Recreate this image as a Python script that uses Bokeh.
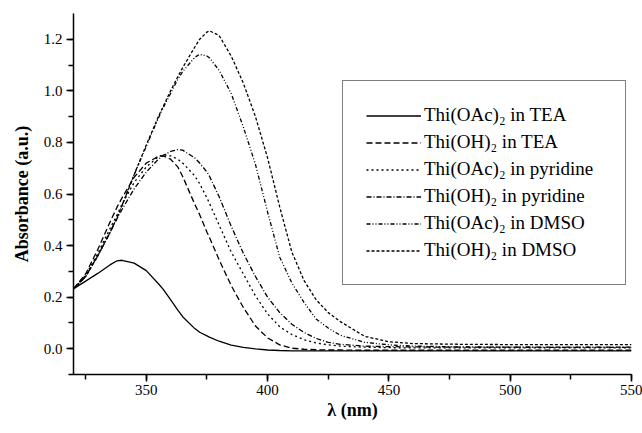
from bokeh.plotting import figure
from bokeh.models import (Legend, LegendItem, SingleIntervalTicker, NumeralTickFormatter)
from bokeh.embed import file_html
from bokeh.resources import INLINE

# Wavelength grid (nm)
wavelength = [320, 325, 330, 335, 338, 340, 345, 350, 355, 357, 360, 363, 365, 370, 372,
              375, 376, 380, 385, 390, 395, 400, 405, 410, 415, 420, 425, 430, 440, 450,
              460, 480, 500, 525, 550]

oac_tea = [0.232, 0.262, 0.292, 0.325, 0.341, 0.343, 0.332, 0.303, 0.252, 0.230, 0.190, 0.150,
           0.124, 0.078, 0.064, 0.050, 0.045, 0.029, 0.014, 0.005, -0.001, -0.005, -0.007,
           -0.008, -0.008, -0.008, -0.008, -0.008, -0.008, -0.008, -0.008, -0.008, -0.008,
           -0.008, -0.008]

oh_tea = [0.232, 0.290, 0.385, 0.490, 0.550, 0.585, 0.665, 0.720, 0.746, 0.748, 0.735, 0.705,
          0.668, 0.560, 0.520, 0.452, 0.432, 0.345, 0.245, 0.160, 0.088, 0.042, 0.015, 0.002,
          -0.002, -0.004, -0.005, -0.005, -0.006, -0.006, -0.006, -0.006, -0.006, -0.006,
          -0.006]

oac_pyr = [0.232, 0.285, 0.370, 0.465, 0.520, 0.560, 0.645, 0.705, 0.745, 0.752, 0.748, 0.735,
           0.720, 0.670, 0.640, 0.585, 0.565, 0.480, 0.375, 0.290, 0.205, 0.135, 0.085, 0.055,
           0.035, 0.022, 0.015, 0.010, 0.006, 0.004, 0.003, 0.003, 0.003, 0.003, 0.003]

oh_pyr = [0.232, 0.280, 0.360, 0.450, 0.505, 0.540, 0.620, 0.685, 0.735, 0.750, 0.765, 0.772,
          0.770, 0.740, 0.720, 0.685, 0.670, 0.590, 0.475, 0.370, 0.280, 0.200, 0.140, 0.095,
          0.063, 0.040, 0.025, 0.017, 0.010, 0.008, 0.007, 0.006, 0.006, 0.006, 0.006]

oac_dmso = [0.232, 0.280, 0.360, 0.450, 0.510, 0.555, 0.675, 0.785, 0.895, 0.935, 0.990, 1.045,
            1.075, 1.130, 1.142, 1.135, 1.128, 1.080, 0.990, 0.860, 0.715, 0.530, 0.355, 0.255,
            0.180, 0.115, 0.080, 0.052, 0.025, 0.015, 0.010, 0.007, 0.006, 0.005, 0.005]

oh_dmso = [0.232, 0.280, 0.360, 0.450, 0.510, 0.555, 0.675, 0.790, 0.900, 0.940, 1.000, 1.055,
           1.090, 1.170, 1.200, 1.228, 1.233, 1.215, 1.135, 1.030, 0.900, 0.740, 0.550, 0.375,
           0.265, 0.190, 0.140, 0.105, 0.048, 0.027, 0.020, 0.017, 0.016, 0.016, 0.016]

labels = ["Thi(OAc)\u2082 in TEA", "Thi(OH)\u2082 in TEA", "Thi(OAc)\u2082 in pyridine",
          "Thi(OH)\u2082 in pyridine", "Thi(OAc)\u2082 in DMSO", "Thi(OH)\u2082 in DMSO"]

series = [oac_tea, oh_tea, oac_pyr, oh_pyr, oac_dmso, oh_dmso]
dashes = ["solid", "6 3", "2 3", "5 2 1 2", "4 2 1 2 1 2", "3 2"]

SERIF = "Liberation Serif"

p = figure(width=642, height=433, x_range=(320, 550), y_range=(-0.1, 1.3),
           output_backend="svg", toolbar_location=None,
           min_border_left=73, min_border_right=11, min_border_top=13, min_border_bottom=59)
p.outline_line_color = None
p.xgrid.visible = False
p.ygrid.visible = False

items = []
for ys, dash, lab in zip(series, dashes, labels):
    r = p.line(wavelength, ys, line_color="black", line_width=1.3, line_dash=dash)
    items.append(LegendItem(label=lab, renderers=[r]))

# Axes
p.xaxis.ticker = SingleIntervalTicker(interval=50, num_minor_ticks=2)
p.yaxis.ticker = SingleIntervalTicker(interval=0.2, num_minor_ticks=2)
p.yaxis.formatter = NumeralTickFormatter(format="0.0")
for ax in (p.xaxis[0], p.yaxis[0]):
    ax.axis_line_width = 1.5
    ax.axis_line_color = "black"
    ax.major_tick_line_color = "black"
    ax.minor_tick_line_color = "black"
    ax.major_tick_line_width = 1.5
    ax.minor_tick_line_width = 1.5
    ax.major_tick_out = 7
    ax.major_tick_in = 0
    ax.minor_tick_out = 5
    ax.minor_tick_in = 0
    ax.major_label_text_font = SERIF
    ax.major_label_text_font_size = "15px"
    ax.major_label_text_color = "black"
    ax.axis_label_text_font = SERIF
    ax.axis_label_text_font_size = "18px"
    ax.axis_label_text_font_style = "bold"
    ax.axis_label_text_color = "black"

p.xaxis.axis_label = "\u03bb (nm)"
p.yaxis.axis_label = "Absorbance (a.u.)"
p.xaxis.major_label_standoff = 3
p.xaxis.axis_label_standoff = 2
p.yaxis.major_label_standoff = 4
p.yaxis.axis_label_standoff = 9

legend = Legend(items=items, location=(269, 89))
legend.border_line_color = "black"
legend.border_line_width = 1.5
legend.background_fill_color = "white"
legend.background_fill_alpha = 1.0
legend.label_text_font = SERIF
legend.label_text_font_size = "19px"
legend.label_text_color = "black"
legend.glyph_width = 55
legend.glyph_height = 21
legend.label_height = 21
legend.label_width = 178
legend.label_standoff = 3
legend.spacing = 5
legend.padding = 23
legend.margin = 0
p.add_layout(legend, "center")

open("out.html", "w").write(file_html(p, INLINE))
